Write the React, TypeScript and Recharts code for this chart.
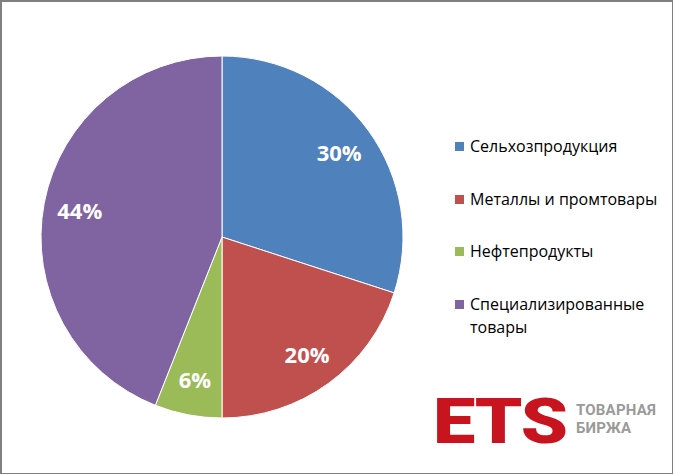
import React from 'react';
import { PieChart, Pie, Cell, Legend } from 'recharts';

const categories = ['Сельхозпродукция', 'Металлы и промтовары', 'Нефтепродукты', 'Специализированные товары'];
const shares = [30, 20, 6, 44];
const colors = ['#4F81BD', '#C0504D', '#9BBB59', '#8064A2'];

const data = categories.map((name, i) => ({ name, value: shares[i] }));

const RAD = Math.PI / 180;

function renderLabel(props: any) {
  const { cx, cy, midAngle, outerRadius, value } = props;
  const r = outerRadius * 0.8;
  const x = cx + r * Math.cos(-midAngle * RAD);
  const y = cy + r * Math.sin(-midAngle * RAD);
  return (
    <text
      x={x}
      y={y}
      fill="#fff"
      textAnchor="middle"
      dominantBaseline="central"
      style={{ fontFamily: 'Open Sans', fontWeight: 700, fontSize: 22 }}
    >
      {value}%
    </text>
  );
}

function LegendBox() {
  const rows: { label: string[]; color: string; top: number }[] = [
    { label: ['Сельхозпродукция'], color: colors[0], top: 147 },
    { label: ['Металлы и промтовары'], color: colors[1], top: 200 },
    { label: ['Нефтепродукты'], color: colors[2], top: 252 },
    { label: ['Специализированные', 'товары'], color: colors[3], top: 305 },
  ];
  return (
    <div>
      {rows.map((r) => (
        <div key={r.label[0]} style={{ position: 'absolute', left: 455, top: r.top - 12 }}>
          <span
            style={{
              position: 'absolute',
              left: 0,
              top: 7,
              width: 9,
              height: 9,
              background: r.color,
            }}
          />
          <div
            style={{
              position: 'absolute',
              left: 15,
              top: 0,
              whiteSpace: 'nowrap',
              fontFamily: 'Open Sans',
              fontSize: 16,
              lineHeight: '23px',
              color: '#000',
            }}
          >
            {r.label.map((l) => (
              <div key={l}>{l}</div>
            ))}
          </div>
        </div>
      ))}
    </div>
  );
}

const logoSub: React.CSSProperties = {
  position: 'absolute',
  left: 576,
  fontFamily: 'Roboto',
  fontWeight: 700,
  fontSize: 15,
  lineHeight: '15px',
  letterSpacing: 0.2,
  color: '#9a9a9a',
  whiteSpace: 'nowrap',
};

export default function App() {
  return (
    <div style={{ position: 'absolute', left: 0, top: 0, width: 674, height: 475, background: '#fff' }}>
      <PieChart width={674} height={475} margin={{ top: 0, right: 0, bottom: 0, left: 0 }}>
        <Pie
          data={data}
          dataKey="value"
          nameKey="name"
          cx={222}
          cy={237}
          outerRadius={181}
          startAngle={90}
          endAngle={-270}
          stroke="#fff"
          strokeWidth={1}
          label={renderLabel}
          labelLine={false}
          isAnimationActive={false}
        >
          {data.map((d, i) => (
            <Cell key={d.name} fill={colors[i]} />
          ))}
        </Pie>
        <Legend content={() => null} />
      </PieChart>
      <LegendBox />
      <div
        style={{
          position: 'absolute',
          left: 433,
          top: 384,
          display: 'inline-block',
          fontFamily: 'Roboto',
          fontWeight: 900,
          fontSize: 63,
          lineHeight: '76px',
          color: '#C8141E',
          letterSpacing: -1,
          transform: 'scaleX(1.2)',
          transformOrigin: 'left',
        }}
      >
        ETS
      </div>
      <div style={{ ...logoSub, top: 403 }}>ТОВАРНАЯ</div>
      <div style={{ ...logoSub, top: 421 }}>БИРЖА</div>
      <div
        style={{
          position: 'absolute',
          left: 0,
          top: 0,
          width: 673,
          height: 474,
          boxSizing: 'border-box',
          borderTop: '2px solid #808080',
          borderLeft: '2px solid #808080',
          borderRight: '1px solid #808080',
          borderBottom: '1px solid #808080',
          pointerEvents: 'none',
        }}
      />
    </div>
  );
}
